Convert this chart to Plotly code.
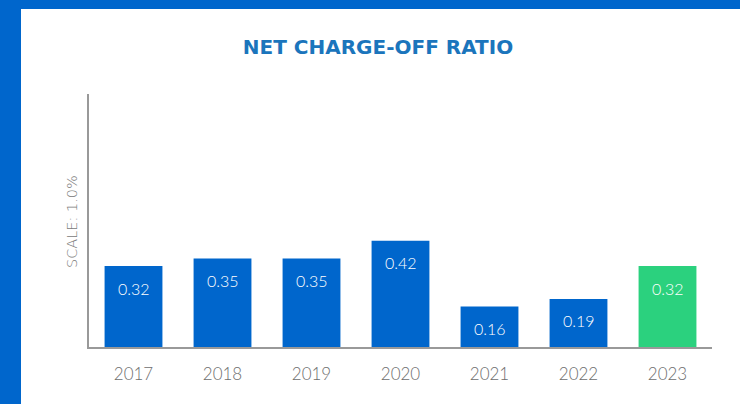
import plotly.graph_objects as go

# Net charge-off ratio by year (%)
years = ["2017", "2018", "2019", "2020", "2021", "2022", "2023"]
ratios = [0.32, 0.35, 0.35, 0.42, 0.16, 0.19, 0.32]
bar_colors = ["#0066CC"] * 6 + ["#2BD17E"]

W, H = 740, 404
L, R, T, B = 89, 28, 94, 57
pw, ph = W - L - R, H - T - B

fig = go.Figure(
    go.Bar(
        x=years,
        y=ratios,
        marker=dict(color=bar_colors, line=dict(width=0)),
        width=0.65,
        hoverinfo="skip",
    )
)

# value labels set just below the top of each bar (category index on x)
for i, v in enumerate(ratios):
    fig.add_annotation(
        x=i, y=v, xref="x", yref="y", text=f"{v:.2f}", showarrow=False,
        yshift=-22,
        font=dict(family="Lato", size=16, weight=300, color="#FFFFFF"),
    )

# rotated scale note beside the value axis
fig.add_annotation(
    xref="paper", yref="paper", x=(62 - L) / pw, y=(H - B - 222) / ph,
    text="SCALE: 1.0%", textangle=-90, showarrow=False,
    font=dict(family="DejaVu Sans", size=14.5, weight=200, color="#7A7A7A"),
)

# blue frame bands along the top and left edges
fig.add_shape(type="rect", xref="paper", yref="paper", layer="below",
              x0=-L / pw, x1=1 + R / pw, y0=1 + (T - 9) / ph, y1=1 + T / ph,
              line=dict(width=0), fillcolor="#0066CC")
fig.add_shape(type="rect", xref="paper", yref="paper", layer="below",
              x0=-L / pw, x1=(21 - L) / pw, y0=-B / ph, y1=1 + T / ph,
              line=dict(width=0), fillcolor="#0066CC")

fig.update_layout(
    width=W, height=H,
    margin=dict(l=L, r=R, t=T, b=B),
    paper_bgcolor="#FFFFFF", plot_bgcolor="#FFFFFF",
    showlegend=False,
    title=dict(
        text="<b>NET CHARGE-OFF RATIO</b>",
        xref="paper", x=(378 - L) / pw, xanchor="center",
        yref="container", y=1 - 46.7 / H, yanchor="middle",
        font=dict(family="DejaVu Sans", size=20, color="#1B75BC"),
    ),
    xaxis=dict(
        type="category",
        showline=True, linecolor="#999999", linewidth=2,
        ticks="", showgrid=False, zeroline=False,
        ticklabelstandoff=11,
        tickfont=dict(family="Lato", size=17, weight=300, color="#6E6E6E"),
        range=[-0.5, 6.5],
    ),
    yaxis=dict(
        range=[0, 1.0], showline=True, linecolor="#999999", linewidth=2,
        showticklabels=False, ticks="", showgrid=False, zeroline=False,
    ),
)

fig.write_html("out.html")
